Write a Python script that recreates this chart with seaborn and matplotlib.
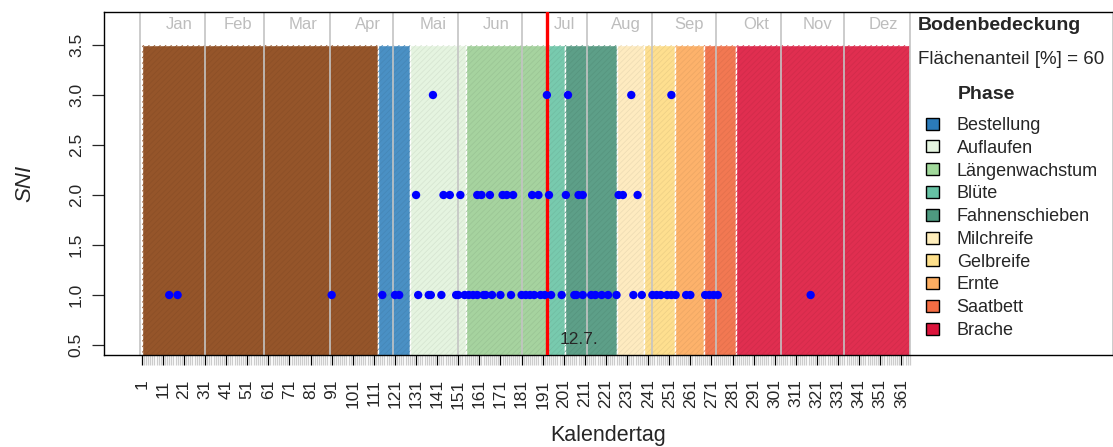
import numpy as np
import pandas as pd
import matplotlib
matplotlib.use('Agg')
import matplotlib.pyplot as plt
from matplotlib.patches import Rectangle, Patch
import seaborn as sns

# --- data -------------------------------------------------------------
# crop phases (start / end as day of year)
phase_names = ['Vorfrucht', 'Bestellung', 'Auflaufen', 'Längenwachstum', 'Blüte',
               'Fahnenschieben', 'Milchreife', 'Gelbreife', 'Ernte', 'Saatbett', 'Brache']
phase_start = [1, 113, 128, 154.5, 193.5, 201.5, 226, 239, 253.5, 267.5, 282.5]
phase_end = [113, 128, 154.5, 193.5, 201.5, 226, 239, 253.5, 267.5, 282.5, 365]
phase_colors = ['#95552a', '#4a90c4', '#e5f4e0', '#a6d39f', '#78caae',
                '#5d9f88', '#feebc0', '#fedf8f', '#fdb26b', '#f27852', '#e02e50']
legend_colors = ['#2b7bba', '#e5f5e0', '#a1d99b', '#66c2a4', '#4e9a80',
                 '#ffeebb', '#fee08b', '#fdae61', '#f46d43', '#dc143c']

month_names = ['Jan', 'Feb', 'Mar', 'Apr', 'Mai', 'Jun', 'Jul', 'Aug', 'Sep', 'Okt', 'Nov', 'Dez']
month_ends = [31, 59, 90, 120, 151, 181, 212, 243, 273, 304, 334, 365]

# SNI observations (day of year)
days_sni1 = [14, 18, 91, 115, 121, 123, 132, 137, 138, 143, 150, 151, 154, 156, 158, 160,
             163, 164, 167, 171, 176, 181, 183, 185, 187, 190, 192, 195, 200, 206, 207, 210,
             214, 216, 219, 222, 226, 234, 238, 243, 245, 247, 250, 252, 254, 259, 261, 268,
             270, 272, 274, 318]
days_sni2 = [131, 144, 147, 152, 160, 162, 166, 172, 174, 177, 186, 189, 194, 202, 208,
             210, 227, 229, 236]
days_sni3 = [139, 193, 203, 233, 252]

event_day = 193
event_label = '12.7.'
flaechenanteil = 60

df = pd.DataFrame({
    'Kalendertag': days_sni1 + days_sni2 + days_sni3,
    'SNI': [1.0] * len(days_sni1) + [2.0] * len(days_sni2) + [3.0] * len(days_sni3),
})

# --- style -------------------------------------------------------------
sns.set_style('white')
plt.rcParams['font.family'] = ['Liberation Sans', 'DejaVu Sans']
plt.rcParams['hatch.linewidth'] = 0.5

W, H = 1113, 447


def fx(px):
    return px / W


def fy(py):
    return 1 - py / H


fig = plt.figure(figsize=(W / 100, H / 100), dpi=100)
ax = fig.add_axes([fx(104), fy(355), fx(1113) - fx(104), fy(12) - fy(355)])

ax.set_xlim(-16.9, 461.3)
ax.set_ylim(0.4, 3.83)

# phase rectangles, with a faint R-like shading texture
for s, e, c in zip(phase_start, phase_end, phase_colors):
    ax.add_patch(Rectangle((s, 0), e - s, 3.5, facecolor=c, edgecolor='white',
                           linewidth=1, zorder=1))
    dark = tuple(v * 0.93 for v in matplotlib.colors.to_rgb(c))
    ax.add_patch(Rectangle((s, 0), e - s, 3.5, fill=False, hatch='//////',
                           edgecolor=dark, linewidth=0, zorder=1.5))

# month lines and labels
ax.vlines([0] + month_ends, 0, 4, color='#c4c4c4', linewidth=1.2, zorder=2)
for name, end in zip(month_names, month_ends):
    ax.text(end - 5.7, 3.71, name, ha='right', va='center', color='#bdbdbd', fontsize=12)

# event line
ax.axvline(event_day, color='#ff0000', linewidth=2.4, zorder=3)
ax.text(event_day + 6, 0.55, event_label, ha='left', va='center', fontsize=12.5, zorder=4)

sns.scatterplot(data=df, x='Kalendertag', y='SNI', ax=ax, color='#0000ff',
                s=36, edgecolor='none', zorder=5, legend=False)

# axes
ax.set_xticks(np.arange(1, 362, 10))
ax.set_xticks(np.arange(1, 366), minor=True)
ax.tick_params(axis='x', which='major', length=7.5, width=0.9, color='black',
               labelsize=12.5, labelrotation=90, pad=10, bottom=True)
ax.tick_params(axis='x', which='minor', length=7, width=0.9, color='#cccccc', bottom=True)
ax.set_yticks([0.5, 1.0, 1.5, 2.0, 2.5, 3.0, 3.5])
ax.set_yticklabels(['0.5', '1.0', '1.5', '2.0', '2.5', '3.0', '3.5'], rotation=90, va='center')
ax.tick_params(axis='y', length=8.5, width=0.9, labelsize=12.5, pad=6, left=True)
for lbl in ax.get_xticklabels():
    lbl.set_verticalalignment('top')

ax.set_xlabel('Kalendertag', fontsize=15.5, labelpad=12)
ax.set_ylabel('SNI', fontsize=16, labelpad=24, fontstyle='italic')
for sp in ax.spines.values():
    sp.set_visible(True)
    sp.set_color('black')
    sp.set_linewidth(1.0)

# legend area
fig.text(fx(918), fy(25), 'Bodenbedeckung', fontsize=14, fontweight='bold',
         ha='left', va='center')
fig.text(fx(918), fy(59), 'Flächenanteil [%%] = %d' % flaechenanteil, fontsize=13.5,
         ha='left', va='center')
fig.text(fx(986), fy(94), 'Phase', fontsize=14, fontweight='bold', ha='center', va='center')

handles = [Patch(facecolor=c, edgecolor='black', linewidth=1) for c in legend_colors]
ax.legend(handles, phase_names[1:], loc='upper left', frameon=False,
          bbox_to_anchor=(fx(926), fy(117)), bbox_transform=fig.transFigure,
          borderpad=0, borderaxespad=0, fontsize=13, handlelength=0.7,
          handleheight=0.65, handletextpad=1.0, labelspacing=0.32)

fig.savefig('out.png', dpi=100)
